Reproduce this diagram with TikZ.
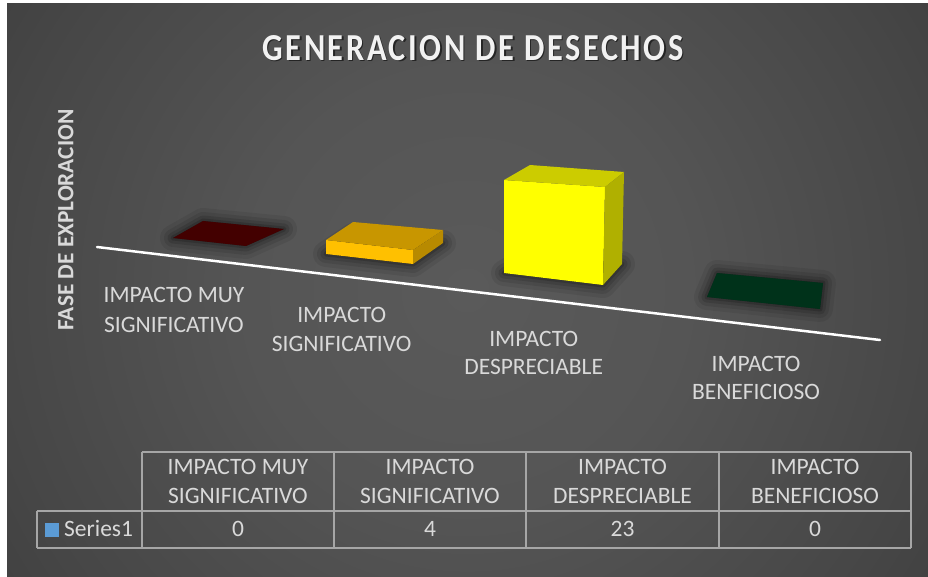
\documentclass[tikz,border=0pt]{standalone}
\usepackage{fontspec}
\setmainfont{Carlito}
\usepackage{graphicx}
\definecolor{bgA}{HTML}{5A5A5A}
\definecolor{bgB}{HTML}{555555}
\definecolor{bgC}{HTML}{464646}
\definecolor{bgD}{HTML}{333333}
\definecolor{bgE}{HTML}{262626}
\definecolor{labelgray}{HTML}{D9D9D9}
\definecolor{titlegray}{HTML}{F2F2F2}
\definecolor{gridgray}{HTML}{A6A6A6}
\definecolor{redbar}{HTML}{430000}
\definecolor{greenbar}{HTML}{00321A}
\definecolor{orfront}{HTML}{FFC000}
\definecolor{ortop}{HTML}{C89600}
\definecolor{orside}{HTML}{B88A00}
\definecolor{yefront}{HTML}{FFFF00}
\definecolor{yetop}{HTML}{CCCC00}
\definecolor{yeside}{HTML}{B0B000}
\definecolor{legblue}{HTML}{5B9BD5}
\pgfdeclareradialshading{bgshade}{\pgfpoint{0bp}{0bp}}{color(0bp)=(bgA); color(10bp)=(bgB); color(22bp)=(bgC); color(35bp)=(bgD); color(50bp)=(bgE)}
\newcommand{\castshadow}[1]{%
  \draw[black,opacity=.07,line width=26,line join=round] #1 -- cycle;
  \draw[black,opacity=.09,line width=18,line join=round] #1 -- cycle;
  \draw[black,opacity=.12,line width=11,line join=round] #1 -- cycle;
  \draw[black,opacity=.16,line width=5,line join=round] #1 -- cycle;
  \fill[black,opacity=.35] #1 -- cycle;}
\begin{document}
\begin{tikzpicture}[x=1pt,y=-1pt,
  lbl/.style={font=\fontsize{23.5}{29}\selectfont, text=labelgray, inner sep=0, anchor=base},
  gridline/.style={draw=gridgray, line width=1.5}]
\useasboundingbox (0,0) rectangle (928,577);
\fill[white] (0,0) rectangle (928,577);
\begin{scope}
  \clip (7,4) rectangle (928,577);
  \shade[shading=bgshade] (-82,-259) rectangle (1016,839);
\end{scope}

% title
\node[anchor=base, inner sep=0, text=black, opacity=.55] (titleshadow) at (474.5,62)
  {\resizebox{421pt}{25pt}{\fontsize{30}{36}\selectfont\bfseries\addfontfeature{LetterSpace=8}GENERACION DE DESECHOS}};
\node[anchor=base, inner sep=0, text=titlegray] (title) at (473,60.5)
  {\resizebox{421pt}{25pt}{\fontsize{30}{36}\selectfont\bfseries\addfontfeature{LetterSpace=8}GENERACION DE DESECHOS}};

% axis title
\node[rotate=90, anchor=base, inner sep=0, text=labelgray, font=\fontsize{23.3}{28}\selectfont\bfseries] (axtitle) at (73.3,220) {FASE DE EXPLORACION};

% shadows
\castshadow{(173,238) -- (203,221) -- (284,229) -- (246,246)}
\castshadow{(326,254) -- (413,264) -- (443,243) -- (353,236)}
\castshadow{(504,273) -- (603,285) -- (622,264) -- (530,258)}
\castshadow{(717,273) -- (823,283) -- (820,309) -- (707,297)}

% floor line
\draw[white, line width=2.5, line cap=round] (97,247) -- (880,340);

% bars
\fill[redbar] (173,238) -- (203,221) -- (284,229) -- (246,246) -- cycle;
\fill[orfront] (326,240) -- (413,250) -- (413,264) -- (326,254) -- cycle;
\fill[ortop] (326,240) -- (353,222) -- (443,230) -- (413,250) -- cycle;
\fill[orside] (413,250) -- (443,230) -- (443,243) -- (413,264) -- cycle;
\fill[yefront] (504,180) -- (605,187) -- (603,285) -- (504,273) -- cycle;
\fill[yetop] (504,180) -- (530,165) -- (624,172) -- (605,187) -- cycle;
\fill[yeside] (605,187) -- (624,172) -- (622,264) -- (603,285) -- cycle;
\fill[greenbar] (717,273) -- (823,283) -- (820,309) -- (707,297) -- cycle;

% category labels
\node[lbl] (c1a) at (174,302.7) {IMPACTO MUY};
\node[lbl] (c1b) at (174,332.7) {SIGNIFICATIVO};
\node[lbl] (c2a) at (341.7,322.7) {IMPACTO};
\node[lbl] (c2b) at (341.7,351.7) {SIGNIFICATIVO};
\node[lbl] (c3a) at (533.7,346) {IMPACTO};
\node[lbl] (c3b) at (533.7,374.3) {DESPRECIABLE};
\node[lbl] (c4a) at (756,371) {IMPACTO};
\node[lbl] (c4b) at (756,399.3) {BENEFICIOSO};

% data table
\draw[gridline] (142,452) -- (911,452);
\draw[gridline] (37,511) -- (911,511);
\draw[gridline] (37,548) -- (911,548);
\draw[gridline] (37,511) -- (37,548);
\foreach \xx in {142,334,526,719,911} {\draw[gridline] (\xx,452) -- (\xx,548);}

\node[lbl] (h1a) at (238,474.3) {IMPACTO MUY};
\node[lbl] (h1b) at (238,503.3) {SIGNIFICATIVO};
\node[lbl] (h2a) at (430,474.3) {IMPACTO};
\node[lbl] (h2b) at (430,503.3) {SIGNIFICATIVO};
\node[lbl] (h3a) at (622.5,474.3) {IMPACTO};
\node[lbl] (h3b) at (622.5,503.3) {DESPRECIABLE};
\node[lbl] (h4a) at (815,474.3) {IMPACTO};
\node[lbl] (h4b) at (815,503.3) {BENEFICIOSO};

\fill[legblue] (45,523) rectangle (59,537);
\node[lbl, anchor=base west] (series) at (64,536.7) {Series1};
\node[lbl] (v1) at (238,536.7) {0};
\node[lbl] (v2) at (430,536.7) {4};
\node[lbl] (v3) at (622.5,536.7) {23};
\node[lbl] (v4) at (815,536.7) {0};
\end{tikzpicture}
\end{document}
